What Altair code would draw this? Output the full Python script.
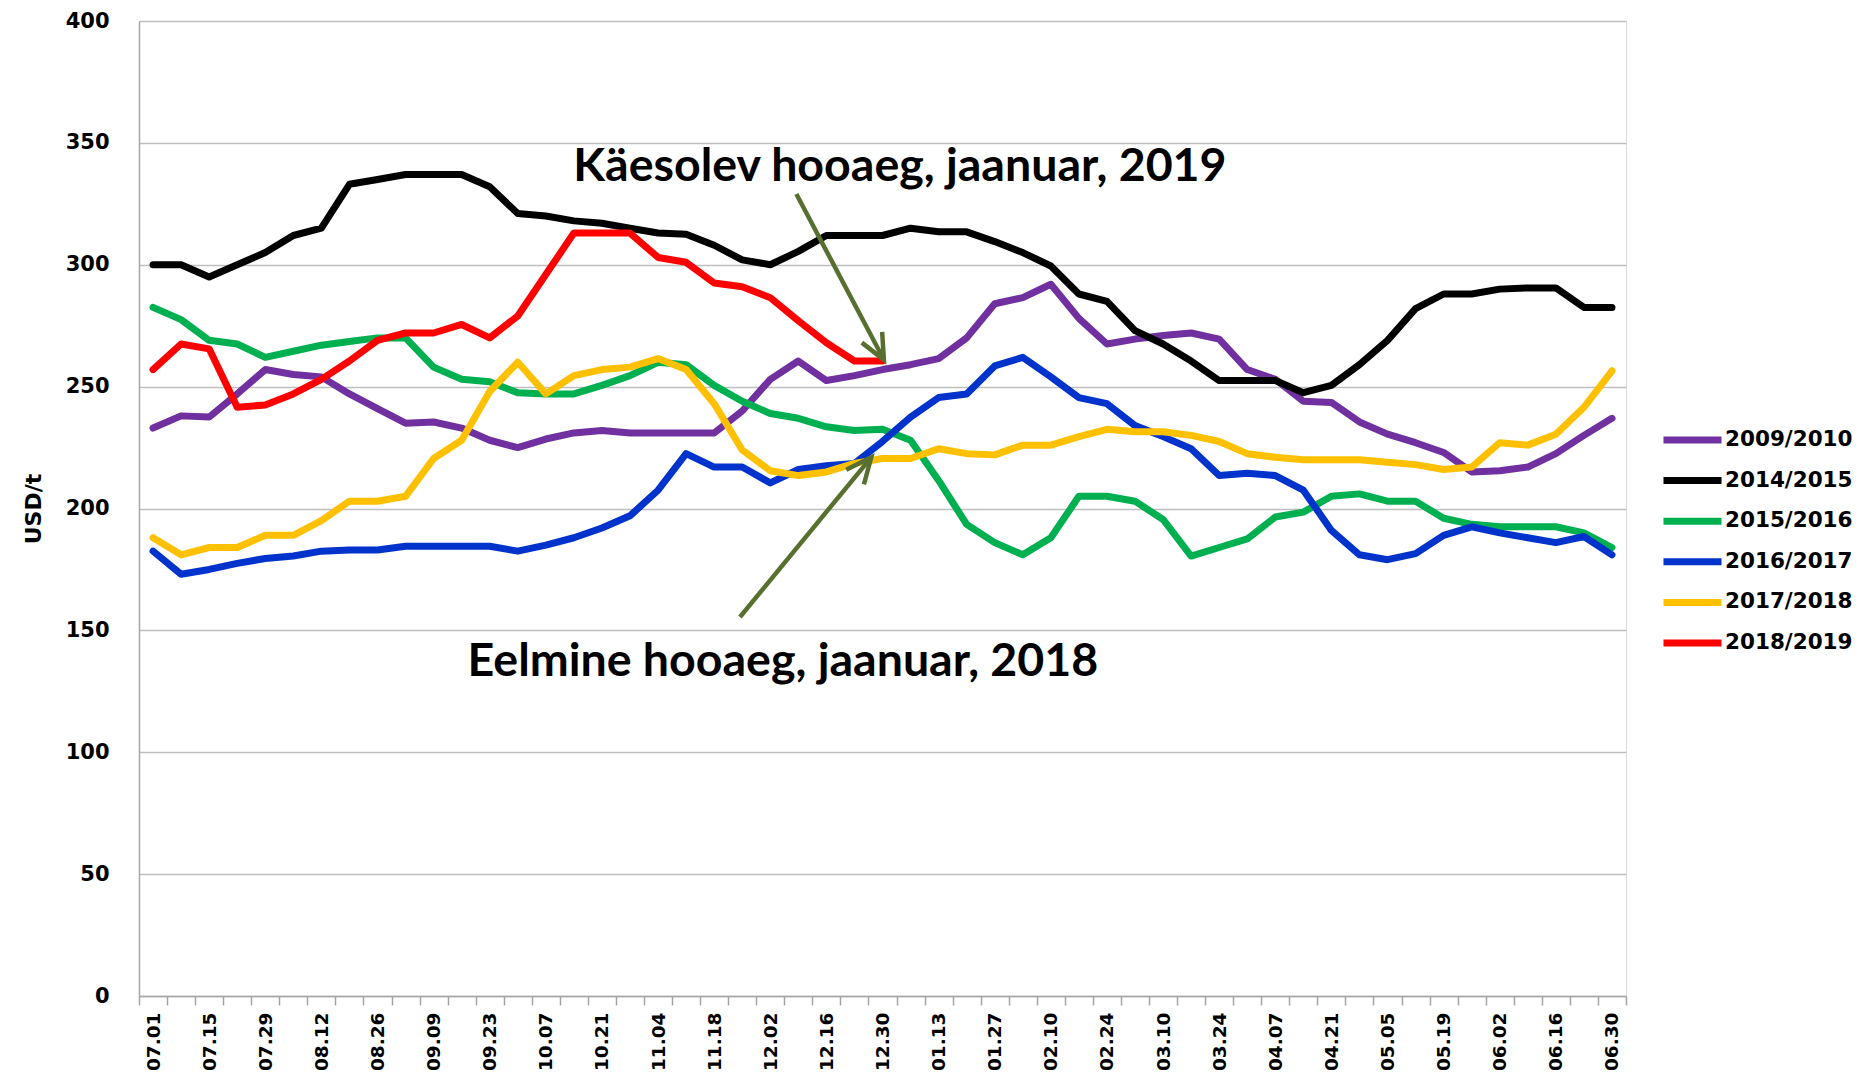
import json
import math
import altair as alt
import pandas as pd

# ---------------- data ----------------
weeks = ["07.01", "07.08", "07.15", "07.22", "07.29", "08.05", "08.12", "08.19", "08.26",
         "09.02", "09.09", "09.16", "09.23", "09.30", "10.07", "10.14", "10.21", "10.28",
         "11.04", "11.11", "11.18", "11.25", "12.02", "12.09", "12.16", "12.23", "12.30",
         "01.06", "01.13", "01.20", "01.27", "02.03", "02.10", "02.17", "02.24",
         "03.03", "03.10", "03.17", "03.24", "03.31", "04.07", "04.14", "04.21", "04.28",
         "05.05", "05.12", "05.19", "05.26", "06.02", "06.09", "06.16", "06.23", "06.30"]

series_names = ["2009/2010", "2014/2015", "2015/2016", "2016/2017", "2017/2018", "2018/2019"]
series_colors = ["#7030A0", "#000000", "#00B050", "#0033CC", "#FFC000", "#FF0000"]

v_2009_2010 = [233, 238, 237.5, 247, 257, 255, 254, 247, 241, 235, 235.5, 233, 228, 225,
               228.5, 231, 232, 231, 231, 231, 231, 240, 253, 260.5, 252.5, 254.5, 257,
               259, 261.5, 270, 284, 286.5, 292, 278, 267.5, 269.5, 271, 272, 269.5, 257,
               253, 244, 243.5, 235.5, 230.5, 227, 223, 215, 215.5, 217, 222.5, 230, 237]
v_2014_2015 = [300, 300, 295, 300, 305, 312, 315, 333, 335, 337, 337, 337, 332, 321,
               320, 318, 317, 315, 313, 312.5, 308, 302, 300, 305.5, 312, 312, 312,
               315, 313.5, 313.5, 309.5, 305, 299.5, 288, 285, 273, 267.5, 260.5, 252.5, 252.5,
               252.5, 247.5, 250.5, 259, 269, 282, 288, 288, 290, 290.5, 290.5, 282.5, 282.5]
v_2015_2016 = [282.5, 277.5, 269, 267.5, 262, 264.5, 267, 268.5, 270, 270, 258, 253, 252, 247.5,
               247, 247, 250.5, 254.5, 260, 259, 250.5, 244, 239, 237, 233.5, 232, 232.5,
               228, 211.5, 193.5, 186, 181, 188, 205, 205, 203, 195.5, 180.5, 184, 187.5,
               196.5, 198.5, 205, 206, 203, 203, 196, 193.5, 192.5, 192.5, 192.5, 190, 184]
v_2016_2017 = [182.5, 173, 175, 177.5, 179.5, 180.5, 182.5, 183, 183, 184.5, 184.5, 184.5, 184.5, 182.5,
               185, 188, 192, 197, 207.5, 222.5, 217, 217, 210.5, 216, 217.5, 218.5, 227.5,
               237.5, 245.5, 247, 258.5, 262, 254, 245.5, 243, 234, 229.5, 224.5, 213.5, 214.5,
               213.5, 207.5, 191, 181, 179, 181.5, 189, 192.5, 190, 188, 186, 188.5, 181]
v_2017_2018 = [188, 181, 184, 184, 189, 189, 195, 203, 203, 205, 220.5, 228, 248, 260,
               247, 254.5, 257, 258, 261.5, 257, 243, 224, 215.5, 213.5, 215, 218.5, 220.5,
               220.5, 224.5, 222.5, 222, 226, 226, 229.5, 232.5, 231.5, 231.5, 230, 227.5, 222.5,
               221, 220, 220, 220, 219, 218, 216, 217, 227, 226, 230.5, 241.5, 256.5]
v_2018_2019 = [257, 267.5, 265.5, 241.5, 242.5, 247, 253, 260.5, 269, 272, 272, 275.5, 270, 279,
               296, 313, 313, 313, 303, 301, 292.5, 291, 286.5, 277, 268, 260.5, 260.5]

y_ticks = [0, 50, 100, 150, 200, 250, 300, 350, 400]

# annotations (in data coordinates: week index, USD/t)
ann_texts = ["Käesolev hooaeg, jaanuar, 2019", "Eelmine hooaeg, jaanuar, 2018"]
ann_x = [26.62, 22.45]
ann_y = [340.3, 137.2]
arrow_x_from = [22.93, 20.92]
arrow_y_from = [329.0, 155.5]
arrow_x_to = [26.05, 25.6]
arrow_y_to = [261.0, 221.0]

# ---------------- layout ----------------
W, H = 1487, 975
ARROW_COLOR = "#58702f"
GRID = "#bfbfbf"
AXISC = "#a6a6a6"

all_series = [v_2009_2010, v_2014_2015, v_2015_2016, v_2016_2017, v_2017_2018, v_2018_2019]
rows = []
for name, vals in zip(series_names, all_series):
    for i, (wk, v) in enumerate(zip(weeks, vals)):
        rows.append({"week": wk, "idx": i, "series": name, "value": v})
df = pd.DataFrame(rows)

px_x = W / len(weeks)
px_y = H / 400.0
shaft_rows, head_rows = [], []
for x0, y0, x1, y1 in zip(arrow_x_from, arrow_y_from, arrow_x_to, arrow_y_to):
    dx = (x1 - x0) * px_x
    dy = -(y1 - y0) * px_y
    ang = (math.degrees(math.atan2(dx, -dy)) + 360.0) % 360.0
    shaft_rows.append({"x0": x0, "value": y0, "x1": x1, "value2": y1})
    head_rows.append({"x1": x1, "value": y1, "angle": ang})
shaft_df = pd.DataFrame(shaft_rows)
head_df = pd.DataFrame(head_rows)
text_df = pd.DataFrame({"t": ann_texts, "x": ann_x, "value": ann_y})

label_expr = "indexof(" + json.dumps(weeks) + ", datum.value) % 2 == 0 ? datum.label : ''"

y_enc = alt.Y(
    "value:Q",
    scale=alt.Scale(domain=[0, 400], nice=False, zero=True),
    axis=alt.Axis(
        values=y_ticks, title="USD/t",
        titleFont="DejaVu Sans", titleFontSize=22, titleFontWeight="bold", titleColor="black",
        titlePadding=20,
        labelFont="DejaVu Sans", labelFontSize=21, labelFontWeight="bold", labelColor="black",
        labelPadding=30, ticks=False, tickSize=0,
        grid=True, gridColor=GRID, gridWidth=1.5,
        domainColor=AXISC, domainWidth=1.5,
    ),
)

def x_ann(field):
    return alt.X(field, type="quantitative",
                 scale=alt.Scale(domain=[-0.5, len(weeks) - 0.5], nice=False, zero=False),
                 axis=None)

lines = alt.Chart(df).mark_line(strokeWidth=7, strokeCap="round", strokeJoin="round").encode(
    x=alt.X(
        "week:O", sort=weeks,
        scale=alt.Scale(type="band", paddingInner=0, paddingOuter=0),
        bandPosition=0.5,
        axis=alt.Axis(
            title=None, labelAngle=270, labelExpr=label_expr,
            labelFont="DejaVu Sans", labelFontWeight="bold", labelFontSize=18.5,
            labelColor="black", labelPadding=7, labelOverlap=False, labelBound=False,
            labelAlign="right", labelBaseline="middle",
            tickBand="extent", ticks=True, tickSize=9, tickColor=AXISC, tickWidth=1.5,
            domainColor=AXISC, domainWidth=1.5, grid=False,
        ),
    ),
    y=y_enc,
    order=alt.Order("idx:Q"),
    color=alt.Color(
        "series:N",
        scale=alt.Scale(domain=series_names, range=series_colors),
        legend=alt.Legend(
            title=None, orient="none", legendX=1521, legendY=399,
            symbolType="stroke", symbolSize=3364, symbolStrokeWidth=7,
            labelFont="DejaVu Sans", labelFontWeight="bold", labelFontSize=21.5,
            labelColor="black", labelOffset=0, clipHeight=40, rowPadding=0.6, padding=0,
        ),
    ),
)

shafts = alt.Chart(shaft_df).mark_rule(strokeWidth=4.5, color=ARROW_COLOR).encode(
    x=x_ann("x0"), x2="x1:Q", y=y_enc, y2="value2:Q"
)

heads = alt.Chart(head_df).mark_point(
    shape="M -0.45 1 L 0 0 L 0.45 1", filled=False, size=2600,
    strokeWidth=4.5, color=ARROW_COLOR, opacity=1,
).encode(
    x=x_ann("x1"), y=y_enc,
    angle=alt.Angle("angle:Q", scale=None),
)

texts = alt.Chart(text_df).mark_text(
    font="Lato", fontWeight="bold", fontSize=46.5, color="black",
    align="center", baseline="middle",
).encode(x=x_ann("x"), y=y_enc, text="t:N")

chart = alt.layer(lines, shafts, heads, texts).resolve_scale(x="independent").properties(
    width=W, height=H,
    padding={"left": 131, "top": 13, "right": 232, "bottom": 77},
    autosize=alt.AutoSizeParams(type="none"),
).configure_view(stroke=None).configure(background="white")

chart.save("out.html", embed_options={"renderer": "svg", "actions": False})
